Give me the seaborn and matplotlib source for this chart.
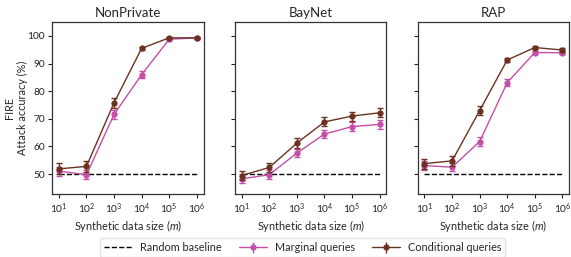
import matplotlib
matplotlib.use("Agg")
import matplotlib.pyplot as plt
import seaborn as sns
from matplotlib.lines import Line2D

sizes = [10, 100, 1000, 10000, 100000, 1000000]
panels = ["NonPrivate", "BayNet", "RAP"]

marginal_mean = {
    "NonPrivate": [51.1, 49.8, 71.6, 86.0, 98.8, 99.3],
    "BayNet": [48.3, 49.8, 57.6, 64.5, 67.2, 68.0],
    "RAP": [53.1, 52.5, 61.8, 83.1, 94.0, 93.9],
}
marginal_err = {
    "NonPrivate": [1.6, 1.6, 1.6, 1.2, 0.5, 0.4],
    "BayNet": [1.6, 1.7, 1.5, 1.6, 1.5, 1.6],
    "RAP": [1.5, 1.5, 1.5, 1.2, 0.6, 0.6],
}
conditional_mean = {
    "NonPrivate": [51.9, 52.8, 75.8, 95.5, 99.3, 99.3],
    "BayNet": [49.5, 52.4, 61.2, 68.9, 71.0, 72.2],
    "RAP": [53.8, 54.8, 73.0, 91.3, 95.8, 94.9],
}
conditional_err = {
    "NonPrivate": [2.0, 2.0, 1.8, 0.6, 0.4, 0.4],
    "BayNet": [1.8, 1.8, 1.7, 1.6, 1.6, 1.6],
    "RAP": [1.8, 1.8, 1.6, 0.8, 0.6, 0.8],
}
baseline = 50

marginal_color = "#c54fa6"
conditional_color = "#6b3222"

sns.set_style("ticks")
plt.rcParams["font.family"] = ["Lato", "DejaVu Sans"]
plt.rcParams["mathtext.fontset"] = "custom"
plt.rcParams["mathtext.it"] = "Lato:italic"
plt.rcParams["mathtext.rm"] = "Lato"

fig, axes = plt.subplots(1, 3, figsize=(5.71, 2.57), dpi=100, sharey=True)
fig.subplots_adjust(left=0.091, right=0.997, top=0.914, bottom=0.245, wspace=0.205)

for ax, name in zip(axes, panels):
    ax.plot(sizes, [baseline] * len(sizes), color="black", linestyle="--", linewidth=1.0)
    for mean, err, color in [(marginal_mean, marginal_err, marginal_color),
                             (conditional_mean, conditional_err, conditional_color)]:
        sns.lineplot(x=sizes, y=mean[name], ax=ax, color=color, linewidth=1.0,
                     marker="o", markersize=4.5, markeredgewidth=0)
        ax.errorbar(sizes, mean[name], yerr=err[name], fmt="none", ecolor=color,
                    elinewidth=1.0, capsize=2.5, capthick=1.0)
    ax.set_xscale("log")
    ax.set_xlim(10 ** 0.75, 10 ** 6.25)
    ax.set_ylim(42.8, 105)
    ax.set_xticks(sizes)
    ax.set_yticks([50, 60, 70, 80, 90, 100])
    ax.minorticks_off()
    ax.set_title(name, fontsize=9.5, pad=4)
    ax.set_xlabel("Synthetic data size ($m$)", fontsize=7.8, labelpad=2)
    ax.tick_params(labelsize=7.3, length=3, width=0.8, pad=2, colors="#222222")
    for s in ax.spines.values():
        s.set_linewidth(0.9)
        s.set_color("#333333")

axes[0].set_ylabel("FIRE\nAttack accuracy (%)", fontsize=7.8, labelpad=0)
for ax in axes[1:]:
    ax.set_ylabel("")

handles = [
    Line2D([], [], color="black", linestyle="--", linewidth=1.0),
    axes[0].errorbar([], [], yerr=[], color=marginal_color, marker="o", markersize=4.5,
                     linewidth=1.0, capsize=2.5, markeredgewidth=0),
    axes[0].errorbar([], [], yerr=[], color=conditional_color, marker="o", markersize=4.5,
                     linewidth=1.0, capsize=2.5, markeredgewidth=0),
]
leg = fig.legend(handles, ["Random baseline", "Marginal queries", "Conditional queries"],
                 loc="lower center", bbox_to_anchor=(0.53, -0.02), ncol=3, fontsize=7.8,
                 frameon=True, handlelength=2.6, columnspacing=1.6, borderpad=0.35,
                 handletextpad=0.7)
leg.get_frame().set_edgecolor("#dddddd")

plt.savefig("out.png", dpi=100)
